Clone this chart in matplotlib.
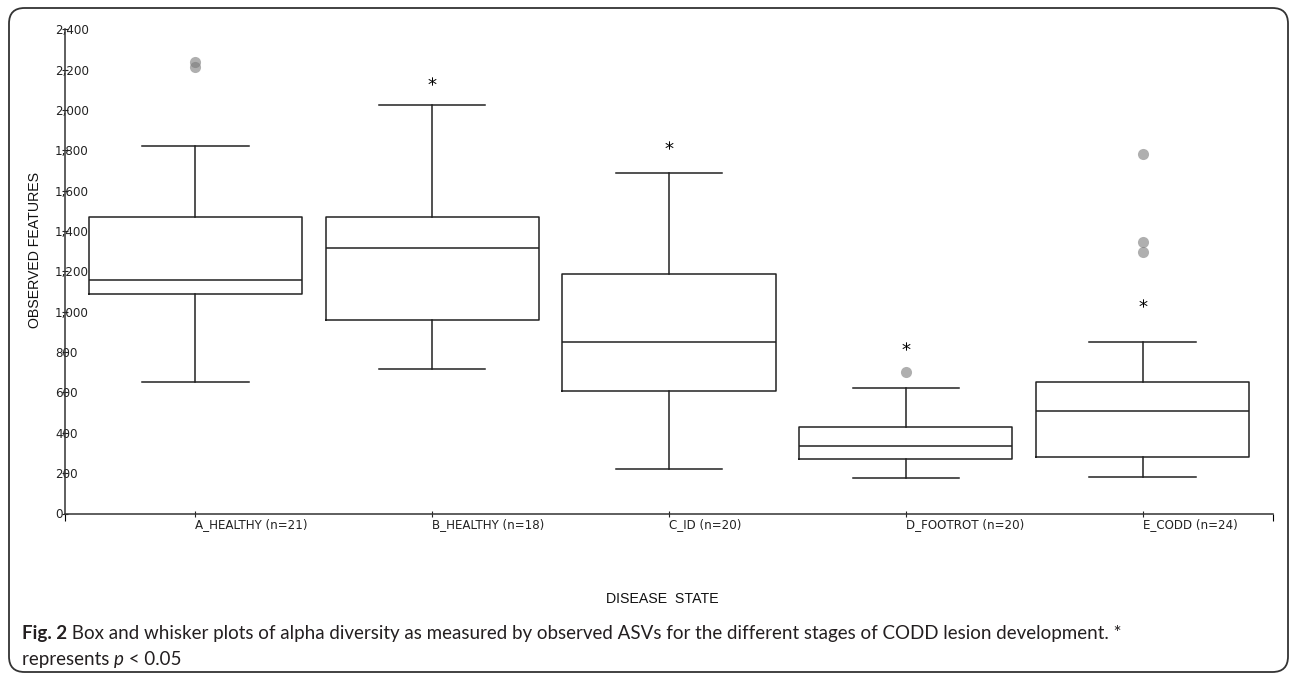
import matplotlib
matplotlib.use("Agg")
import matplotlib.pyplot as plt
from matplotlib.patches import FancyBboxPatch
from matplotlib.ticker import FuncFormatter
from matplotlib import font_manager

# ---------------- data ----------------
categories = ["A_HEALTHY (n=21)", "B_HEALTHY (n=18)", "C_ID (n=20)",
              "D_FOOTROT (n=20)", "E_CODD (n=24)"]
whisker_low = [651, 714, 220, 175, 180]
q1 = [1089, 960, 606, 268, 281]
median = [1159, 1315, 848, 334, 509]
q3 = [1469, 1472, 1185, 430, 654]
whisker_high = [1820, 2026, 1687, 621, 848]
outliers = [[2240, 2215], [], [], [699], [1783, 1345, 1296]]
star_y = [None, 2146, 1826, 832, 1045]
y_ticks = [0, 200, 400, 600, 800, 1000, 1200, 1400, 1600, 1800, 2000, 2200, 2400]

W, H = 1295, 674
fig = plt.figure(figsize=(W / 100, H / 100), dpi=100)

def px_to_fig(x, y):
    return x / W, 1 - y / H

ax_left, ax_right = 65, 1273
ax_top, ax_bot = 29.3, 513.5
ax = fig.add_axes([ax_left / W, 1 - ax_bot / H, (ax_right - ax_left) / W, (ax_bot - ax_top) / H])

stats = []
for i in range(len(categories)):
    stats.append(dict(whislo=whisker_low[i], q1=q1[i], med=median[i], q3=q3[i],
                      whishi=whisker_high[i], fliers=outliers[i], label=categories[i]))

line_col = "#222222"
positions = list(range(len(categories)))
ax.bxp(stats, positions=positions, widths=0.9, showfliers=True, patch_artist=False,
       boxprops=dict(color=line_col, linewidth=1.1),
       medianprops=dict(color=line_col, linewidth=1.1),
       whiskerprops=dict(color=line_col, linewidth=1.1),
       capprops=dict(color=line_col, linewidth=1.1),
       flierprops=dict(marker="o", markersize=8, markerfacecolor="#7a7a7a",
                       markeredgecolor="none", alpha=0.6))

for i, sy in enumerate(star_y):
    if sy is not None:
        ax.plot([positions[i]], [sy], marker=r"$*$", markersize=6, color="black",
                markeredgewidth=0, linestyle="none")

ax.set_xlim(-0.55, 4.55)
ax.set_ylim(0, 2400)

for s in ["top", "right"]:
    ax.spines[s].set_visible(False)
for s in ["left", "bottom"]:
    ax.spines[s].set_color("#333333")
    ax.spines[s].set_linewidth(1.1)

ax.set_yticks(y_ticks)
ax.yaxis.set_major_formatter(FuncFormatter(lambda v, p: f"{int(v):,}"))
ax.tick_params(axis="y", direction="inout", length=5, width=0.8, pad=4.7,
               labelsize=8.6, colors="#222222")
for lab in ax.get_yticklabels():
    lab.set_horizontalalignment("left")

ax.set_xticks(positions)
ax.set_xticklabels(categories)
ax.tick_params(axis="x", direction="inout", length=4, width=0.8, pad=1.0,
               labelsize=8.6, colors="#222222")
for lab in ax.get_xticklabels():
    lab.set_horizontalalignment("left")
ax.set_xticks([-0.55, 4.55], minor=True)
ax.tick_params(axis="x", which="minor", direction="out", length=5, width=0.8)

# axis labels
fig.text(*px_to_fig(35, 250), "OBSERVED FEATURES", rotation=90, ha="center", va="center",
         fontsize=10.2, family="Liberation Sans", color="#111111")
fig.text(*px_to_fig(662, 599), "DISEASE  STATE", ha="center", va="center",
         fontsize=10.2, family="Liberation Sans", color="#111111")

# caption
caption_bold = "Fig. 2"
caption_line1 = " Box and whisker plots of alpha diversity as measured by observed ASVs for the different stages of CODD lesion development. *"
caption_line2 = ["represents ", "p", " < 0.05"]

available = {f.name for f in font_manager.fontManager.ttflist}
cap_font = "Liberation Sans Narrow" if "Liberation Sans Narrow" in available else "Lato"

fig.canvas.draw()
r = fig.canvas.get_renderer()
cap_col = "#231f20"
x0 = 22 / W
y1 = 1 - 639 / H
y2 = 1 - 665 / H

probe = fig.text(0, 0, caption_bold, fontweight="bold", fontsize=12, family=cap_font)
probe2 = fig.text(0, 0, caption_line1, fontsize=12, family=cap_font)
wtot = probe.get_window_extent(r).width + probe2.get_window_extent(r).width
probe.remove(); probe2.remove()
cap_size = min(12 * 1240 / wtot, 13.5)

t = fig.text(x0, y1, caption_bold, fontweight="bold", fontsize=cap_size, family=cap_font,
             color=cap_col, va="baseline")
wb = t.get_window_extent(r).width / W
fig.text(x0 + wb, y1, caption_line1, fontsize=cap_size, family=cap_font, color=cap_col, va="baseline")
t2 = fig.text(x0, y2, caption_line2[0], fontsize=cap_size, family=cap_font, color=cap_col, va="baseline")
w2 = t2.get_window_extent(r).width / W
t3 = fig.text(x0 + w2, y2, caption_line2[1], fontsize=cap_size, family=cap_font, style="italic",
              color=cap_col, va="baseline")
w3 = t3.get_window_extent(r).width / W
fig.text(x0 + w2 + w3, y2, caption_line2[2], fontsize=cap_size, family=cap_font, color=cap_col, va="baseline")

# rounded border
bx0, by0 = 9 / W, 2 / H
bw, bh = (1288 - 9) / W, (674 - 8 - 2) / H
border = FancyBboxPatch((bx0, by0), bw, bh, boxstyle="round,pad=0,rounding_size=0.012",
                        transform=fig.transFigure, fill=False, edgecolor="#333333",
                        linewidth=1.3, mutation_aspect=W / H)
fig.patches.append(border)

fig.savefig("out.png", dpi=100)
